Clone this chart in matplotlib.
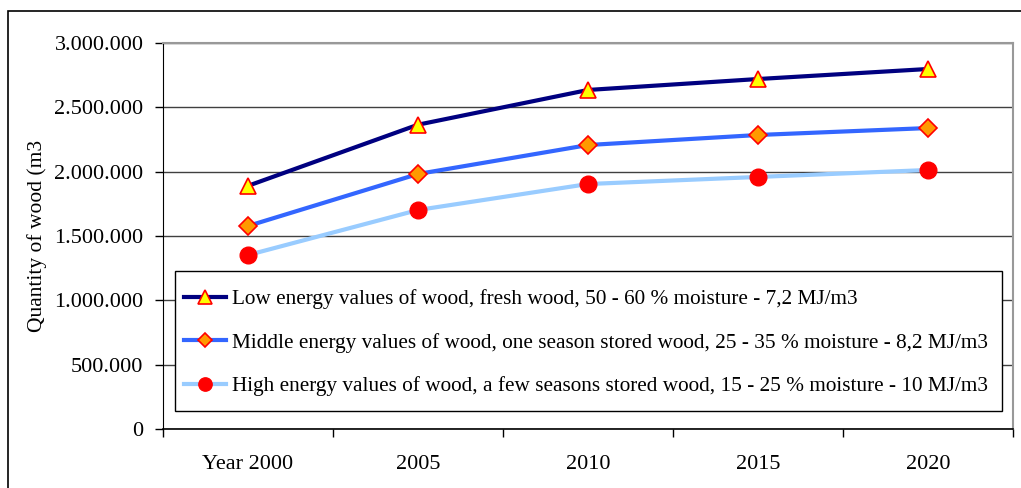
import matplotlib
matplotlib.use("Agg")
import matplotlib.pyplot as plt
from matplotlib.patches import Rectangle
from matplotlib.ticker import FuncFormatter, FixedLocator

categories = ["Year 2000", "2005", "2010", "2015", "2020"]
low = [1890000, 2365000, 2635000, 2720000, 2798000]
middle = [1578000, 1982000, 2207000, 2285000, 2339000]
high = [1352000, 1702000, 1904000, 1959000, 2013000]
labels = [
    "Low energy values of wood, fresh wood, 50 - 60 % moisture - 7,2 MJ/m3",
    "Middle energy values of wood, one season stored wood, 25 - 35 % moisture - 8,2 MJ/m3",
    "High energy values of wood, a few seasons stored wood, 15 - 25 % moisture - 10 MJ/m3",
]

plt.rcParams['font.family'] = ['Liberation Serif', 'DejaVu Serif']

W, H = 1021, 488
fig = plt.figure(figsize=(W / 100, H / 100), dpi=100)
ax = fig.add_axes([163 / W, 1 - 429 / H, (1013 - 163) / W, (429 - 43) / H])

x = list(range(len(categories)))
ax.plot(x, low, color="#000080", lw=3, marker="^", ms=12, mfc="#FFFF00", mec="#FF0000", mew=1.2, label=labels[0], zorder=5)
ax.plot(x, middle, color="#3366FF", lw=3, marker="D", ms=9, mfc="#FF9900", mec="#FF0000", mew=1.2, label=labels[1], zorder=5)
ax.plot(x, high, color="#99CCFF", lw=3, marker="o", ms=12, mfc="#FF0000", mec="#FF0000", label=labels[2], zorder=5)

ax.set_xlim(-0.5, len(categories) - 0.5)
ax.set_ylim(0, 3000000)
ax.set_yticks([i * 500000 for i in range(7)])
ax.yaxis.set_major_formatter(FuncFormatter(lambda v, p: "0" if v == 0 else f"{int(v):,}".replace(",", ".")))
ax.grid(axis="y", color="#404040", lw=1)
ax.set_axisbelow(True)

ax.xaxis.set_major_locator(FixedLocator([i - 0.5 for i in range(len(categories) + 1)]))
ax.xaxis.set_major_formatter(FuncFormatter(lambda v, p: ""))
ax.xaxis.set_minor_locator(FixedLocator(x))
ax.set_xticklabels(categories, minor=True)
ax.tick_params(axis="x", which="minor", length=0, pad=19, labelsize=16)
ax.tick_params(axis="x", which="major", length=6, width=1, direction="out", color="black")
ax.tick_params(axis="y", length=6, width=1, direction="out", labelsize=16, pad=8)

for s in ["top", "right"]:
    ax.spines[s].set_color("#999999")
    ax.spines[s].set_linewidth(1.5)
ax.spines["left"].set_color("black")
ax.spines["bottom"].set_color("black")
ax.spines["bottom"].set_linewidth(1.2)

ax.set_ylabel("Quantity of wood (m3", fontsize=15.5)
ax.yaxis.set_label_coords(-(163 - 47) / 850, 0.5)

# legend frame drawn as its own box, matching the reference frame
ax.add_patch(Rectangle(((175 - 163) / 850, (429 - 411) / 386), (1002 - 175) / 850, (411 - 271) / 386,
                       transform=ax.transAxes, facecolor="white", edgecolor="black", lw=1, zorder=6))
leg = ax.legend(loc="upper left", bbox_to_anchor=((175 - 163) / 850, (429 - 281) / 386, (1002 - 175) / 850, 0),
                mode="expand", fontsize=15.3, frameon=False,
                handlelength=2.0, handletextpad=0.3, labelspacing=1.1, borderaxespad=0, borderpad=0.4,
                markerscale=0.8)
leg.set_zorder(7)

fig.patches.append(Rectangle((8 / W, -0.1), 1.2, 1 - 11 / H + 0.1, transform=fig.transFigure,
                             fill=False, edgecolor="black", lw=1.2))

fig.savefig("out.png", dpi=100)
